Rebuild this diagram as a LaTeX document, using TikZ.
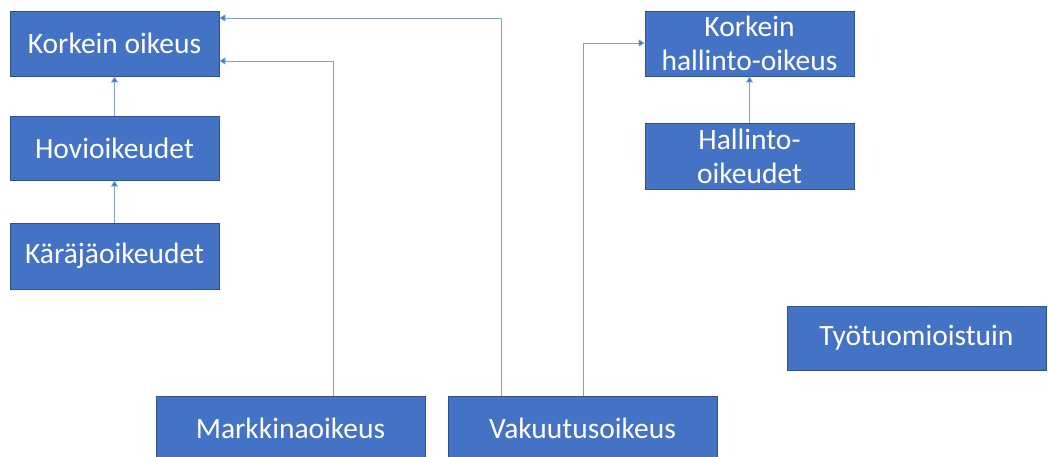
\documentclass[tikz,border=0pt]{standalone}
\usepackage{fontspec}
\setmainfont{Carlito}
\usetikzlibrary{arrows.meta}
\definecolor{boxfill}{HTML}{4472C4}
\definecolor{boxline}{HTML}{2F528F}
\definecolor{connc}{HTML}{7E9FD8}
\tikzset{
  box/.style={draw=boxline, fill=boxfill, line width=0.8pt, text=white,
    font=\fontsize{29.5}{34}\selectfont, inner sep=0pt, align=center},
  conn/.style={draw=connc, line width=0.8pt, -{Triangle[width=7pt,length=6pt,fill=boxfill]}}
}
\begin{document}
\begin{tikzpicture}[x=1pt,y=-1pt]
\useasboundingbox (0,0) rectangle (1048,457);
\node[box, minimum width=209pt, minimum height=65pt] (ko) at (114.5,43.5) {Korkein oikeus};
\node[box, minimum width=209pt, minimum height=64pt] (ho) at (114.5,148) {Hovioikeudet};
\node[box, minimum width=209pt, minimum height=66pt] (ka) at (114.5,256) {Käräjäoikeudet};
\node[box, minimum width=209pt, minimum height=65pt] (kho) at (749.5,43.5) {Korkein\\hallinto-oikeus};
\node[box, minimum width=209pt, minimum height=66pt] (hao) at (749.5,156) {Hallinto-\\oikeudet};
\node[box, minimum width=259pt, minimum height=64pt] (tt) at (916.5,338) {Työtuomioistuin};
\node[box, minimum width=269pt, minimum height=64pt] (mo) at (290.5,428) {Markkinaoikeus};
\node[box, minimum width=269pt, minimum height=64pt] (vo) at (582.5,428) {Vakuutusoikeus};
\coordinate (m1) at (333,61);
\coordinate (v1) at (501,18);
\coordinate (v2) at (583,43);
\draw[conn] (ho.north) -- (ko.south);
\draw[conn] (ka.north) -- (ho.south);
\draw[conn] (hao.north) -- (kho.south);
\draw[conn] (mo.north -| m1) -- (m1) -- (ko.east |- m1);
\draw[conn] (vo.north -| v1) -- (v1) -- (ko.east |- v1);
\draw[conn] (vo.north -| v2) -- (v2) -- (kho.west |- v2);
\end{tikzpicture}
\end{document}
